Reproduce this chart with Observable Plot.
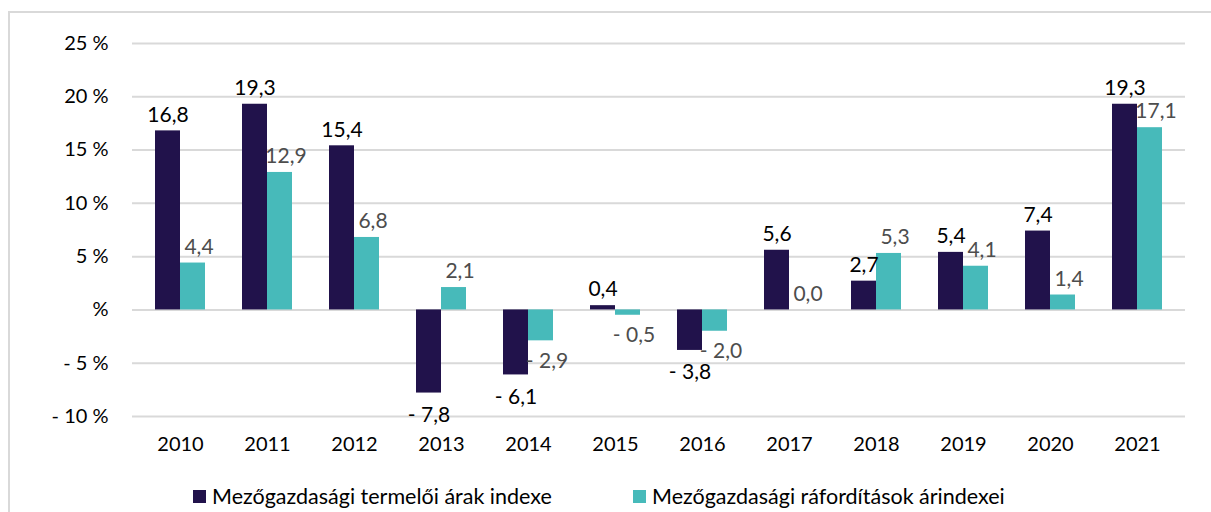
<!DOCTYPE html>
<html>
<head>
<meta charset="utf-8">
<script src="https://cdn.jsdelivr.net/npm/d3@7"></script>
<script src="https://cdn.jsdelivr.net/npm/@observablehq/plot@0.6"></script>
<style>
  html, body { margin:0; padding:0; background:#fff; width:1211px; height:512px; overflow:hidden; }
  #frame { position:absolute; left:8px; top:11px; width:1230px; height:540px; border:2px solid #d9d9d9; box-sizing:border-box; }
  #chart { position:absolute; left:0; top:0; }
  #legend { position:absolute; left:0; top:483px; width:1211px; font-family:Lato, sans-serif; font-size:21.5px; color:#000; }
  .item { position:absolute; display:flex; align-items:center; white-space:nowrap; }
  .sw { width:13px; height:13px; margin-right:6px; }
</style>
</head>
<body>
<div id="frame"></div>
<div id="chart"></div>
<div id="legend"></div>
<script>
const years = ["2010","2011","2012","2013","2014","2015","2016","2017","2018","2019","2020","2021"];
const producerIndex = [16.8, 19.3, 15.4, -7.8, -6.1, 0.4, -3.8, 5.6, 2.7, 5.4, 7.4, 19.3];
const inputIndex = [4.4, 12.9, 6.8, 2.1, -2.9, -0.5, -2.0, 0.0, 5.3, 4.1, 1.4, 17.1];
const seriesNames = ["Mezőgazdasági termelői árak indexe", "Mezőgazdasági ráfordítások árindexei"];
const seriesColors = ["#21124b", "#47baba"];
const yTicks = [-10, -5, 0, 5, 10, 15, 20, 25];

const producer = years.map((y, i) => ({year: y, value: producerIndex[i]}));
const input = years.map((y, i) => ({year: y, value: inputIndex[i]}));

const fmtVal = v => (v < 0 ? "- " : "") + Math.abs(v).toFixed(1).replace(".", ",");
const fmtTick = v => v === 0 ? "%" : (v < 0 ? "- " + Math.abs(v) + " %" : v + " %");

const half = 25;
const chart = Plot.plot({
  width: 1211,
  height: 470,
  marginLeft: 132,
  marginRight: 26,
  marginTop: 43,
  marginBottom: 54,
  style: {fontFamily: "Lato, sans-serif", fontSize: "20px", color: "#000", background: "transparent", overflow: "visible"},
  x: {domain: years, paddingInner: 0.43, paddingOuter: 0.217, tickSize: 0, tickPadding: 20, label: null},
  y: {domain: [-10, 25], ticks: yTicks, tickSize: 0, tickPadding: 24, tickFormat: fmtTick, label: null},
  marks: [
    Plot.ruleY(yTicks, {stroke: "#d9d9d9", strokeWidth: 2}),
    Plot.barY(producer, {x: "year", y: "value", fill: seriesColors[0], insetRight: half}),
    Plot.barY(input, {x: "year", y: "value", fill: seriesColors[1], insetLeft: half}),
    Plot.text(producer.filter(d => d.value >= 0), {x: "year", y: "value", text: d => fmtVal(d.value), dx: -half/2, dy: -16, fill: "#000", fontSize: 21}),
    Plot.text(producer.filter(d => d.value < 0), {x: "year", y: "value", text: d => fmtVal(d.value), dx: -half/2, dy: 22, fill: "#000", fontSize: 21}),
    Plot.text(input.filter(d => d.value >= 0), {x: "year", y: "value", text: d => fmtVal(d.value), dx: half/2 + 6, dy: -16, fill: "#4d4d4d", fontSize: 21}),
    Plot.text(input.filter(d => d.value < 0), {x: "year", y: "value", text: d => fmtVal(d.value), dx: half/2 + 6, dy: 20, fill: "#4d4d4d", fontSize: 21})
  ]
});
document.getElementById("chart").appendChild(chart);

const legend = document.getElementById("legend");
const lefts = [193, 633];
seriesNames.forEach((name, i) => {
  const item = document.createElement("div");
  item.className = "item";
  item.style.left = lefts[i] + "px";
  item.innerHTML = `<span class="sw" style="background:${seriesColors[i]}"></span><span>${name}</span>`;
  legend.appendChild(item);
});
</script>
</body>
</html>
